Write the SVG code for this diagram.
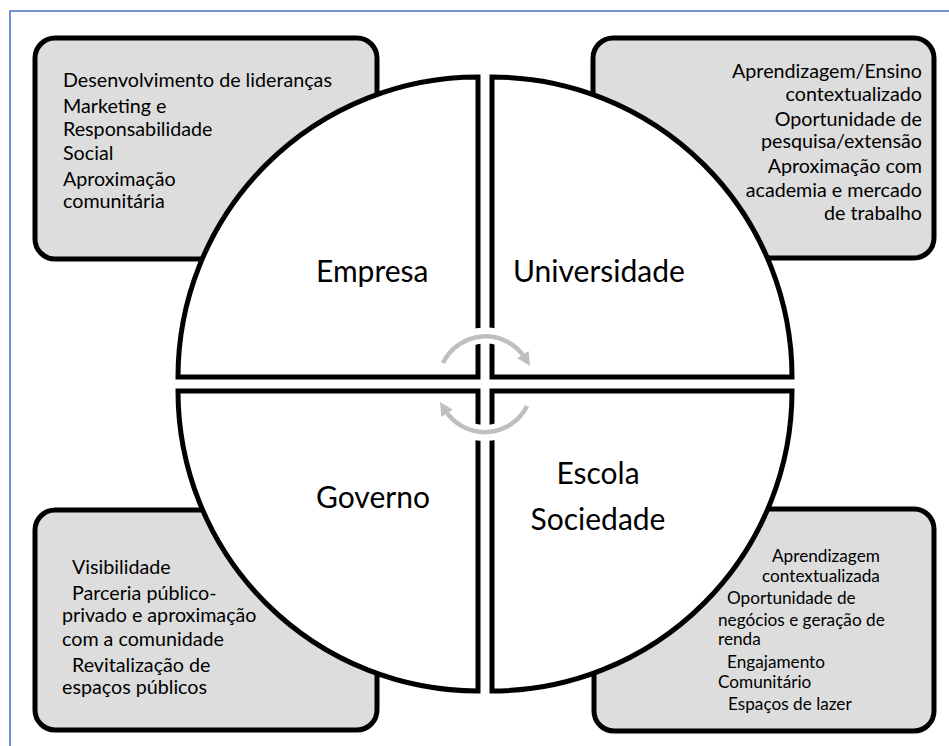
<svg xmlns="http://www.w3.org/2000/svg" width="949" height="746" viewBox="0 0 949 746">
<defs>
<style>
.box{fill:#dddddd;stroke:#000;stroke-width:5}
.q{fill:#fff;stroke:#000;stroke-width:5;stroke-linejoin:miter}
.t{font-family:Lato,"Open Sans","Liberation Sans",sans-serif;font-size:19.7px;fill:#000}
.ts{font-family:Lato,"Open Sans","Liberation Sans",sans-serif;font-size:17.2px;fill:#000}
.big{font-family:Lato,"Open Sans","Liberation Sans",sans-serif;font-size:30px;fill:#000}
.arc{fill:none;stroke:#bfbfbf;stroke-width:4.5}
.halo{fill:none;stroke:#fff;stroke-width:16}
</style>
<marker id="ah" viewBox="0 0 10 10" refX="3" refY="5" markerWidth="3" markerHeight="3" orient="auto" markerUnits="strokeWidth">
<path d="M0,0 L10,5 L0,10 Z" fill="#bfbfbf"/>
</marker>
</defs>
<rect width="949" height="746" fill="#fff"/>
<g id="frame">
<path d="M10,746 L10,11 L949,11" fill="none" stroke="#4472c4" stroke-width="1.5"/>
</g>
<g id="box-empresa">
<rect class="box" x="35" y="38" width="342" height="221" rx="20"/>
<text class="t" x="63" y="87">Desenvolvimento de lideranças</text>
<text class="t" x="63" y="113">Marketing e</text>
<text class="t" x="63" y="136">Responsabilidade</text>
<text class="t" x="63" y="160">Social</text>
<text class="t" x="63" y="186">Aproximação</text>
<text class="t" x="63" y="208">comunitária</text>
</g>
<g id="box-universidade">
<rect class="box" x="593" y="38" width="341" height="220" rx="20"/>
<g text-anchor="end">
<text class="t" x="922" y="78">Aprendizagem/Ensino</text>
<text class="t" x="922" y="101">contextualizado</text>
<text class="t" x="922" y="126">Oportunidade de</text>
<text class="t" x="922" y="148">pesquisa/extensão</text>
<text class="t" x="922" y="173">Aproximação com</text>
<text class="t" x="922" y="197">academia e mercado</text>
<text class="t" x="922" y="220">de trabalho</text>
</g>
</g>
<g id="box-governo">
<rect class="box" x="35" y="510" width="342" height="220" rx="20"/>
<text class="t" x="72" y="574">Visibilidade</text>
<text class="t" x="72" y="600">Parceria público-</text>
<text class="t" x="62" y="622">privado e aproximação</text>
<text class="t" x="62" y="646">com a comunidade</text>
<text class="t" x="72" y="672">Revitalização de</text>
<text class="t" x="62" y="694">espaços públicos</text>
</g>
<g id="box-escola">
<rect class="box" x="594" y="509" width="340" height="222" rx="20"/>
<text class="ts" x="772" y="562">Aprendizagem</text>
<text class="ts" x="762" y="582">contextualizada</text>
<text class="ts" x="727" y="604">Oportunidade de</text>
<text class="ts" x="718" y="626">negócios e geração de</text>
<text class="ts" x="718" y="645">renda</text>
<text class="ts" x="727" y="668">Engajamento</text>
<text class="ts" x="718" y="688">Comunitário</text>
<text class="ts" x="728" y="710">Espaços de lazer</text>
</g>
<g id="q-empresa">
<path class="q" d="M478,377 L478,77 A300,300 0 0 0 178,377 Z"/>
<text class="big" x="316" y="282">Empresa</text>
</g>
<g id="q-universidade">
<path class="q" d="M492,377 L492,77 A300,300 0 0 1 792,377 Z"/>
<text class="big" x="513" y="282">Universidade</text>
</g>
<g id="q-governo">
<path class="q" d="M478,391 L478,691 A300,300 0 0 1 178,391 Z"/>
<text class="big" x="316" y="508">Governo</text>
</g>
<g id="q-escola">
<path class="q" d="M492,391 L492,691 A300,300 0 0 0 792,391 Z"/>
<text class="big" x="598" y="484" text-anchor="middle">Escola</text>
<text class="big" x="598" y="530" text-anchor="middle">Sociedade</text>
</g>
<g id="connectors">
<path class="halo" d="M443,363 A47,47 0 0 1 527,360"/>
<path class="halo" d="M527,406 A47,47 0 0 1 443,408"/>
<path class="arc" d="M443,363 A47,47 0 0 1 525,358" marker-end="url(#ah)"/>
<path class="arc" d="M527,406 A47,47 0 0 1 445,410" marker-end="url(#ah)"/>
</g>
</svg>
